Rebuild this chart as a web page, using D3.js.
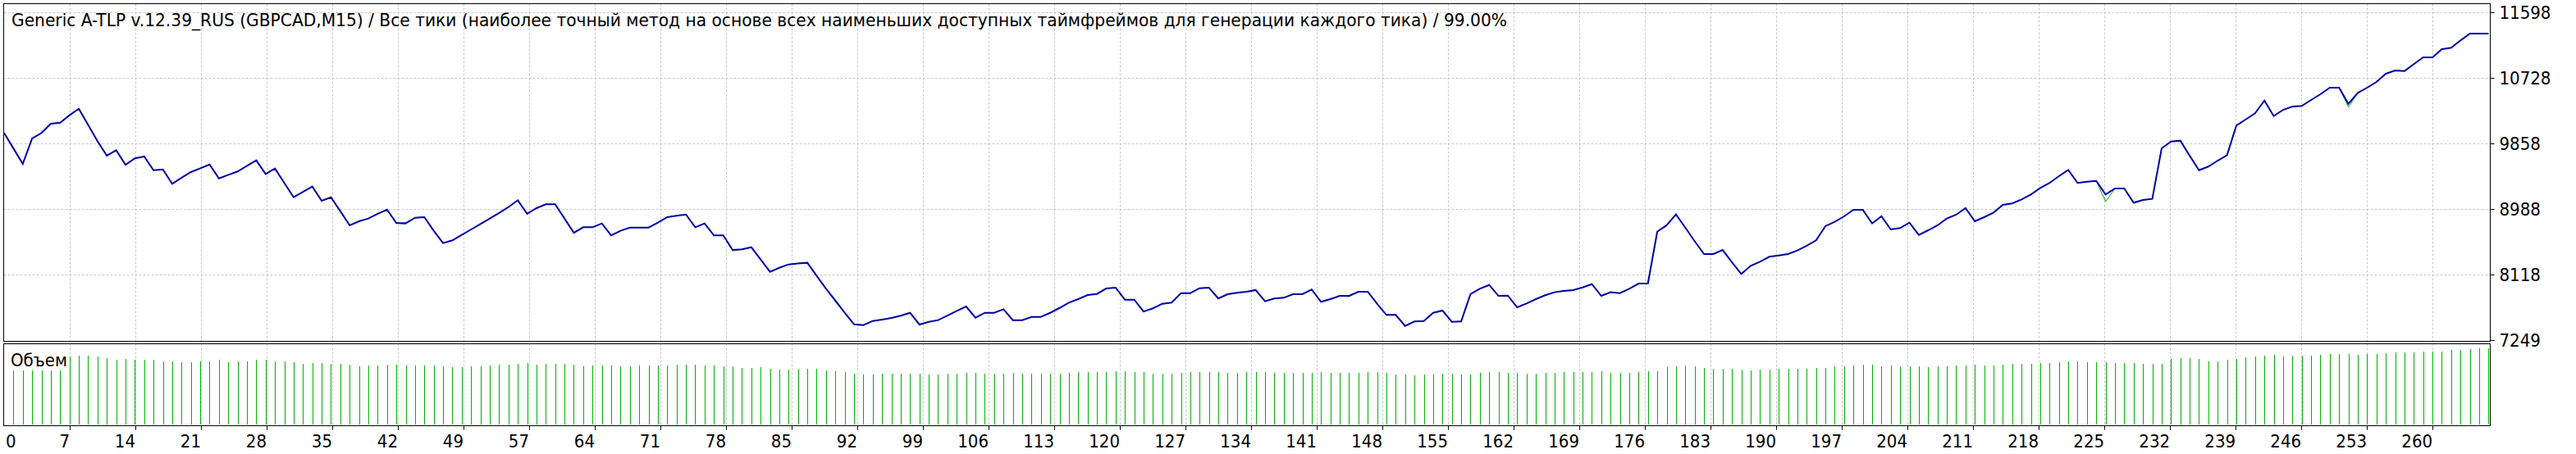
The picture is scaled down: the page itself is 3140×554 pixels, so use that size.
<!DOCTYPE html>
<html>
<head>
<meta charset="utf-8">
<script src="https://cdn.jsdelivr.net/npm/d3@7"></script>
<style>
  body { margin: 0; background: #fff; }
  svg text { font-family: "DejaVu Sans Condensed", "DejaVu Sans", sans-serif; font-size: 22px; fill: #000; }
</style>
</head>
<body>
<svg id="chart" width="3140" height="554"></svg>
<script>
const title = "Generic A-TLP v.12.39_RUS (GBPCAD,M15) / Все тики (наиболее точный метод на основе всех наименьших доступных таймфреймов для генерации каждого тика) / 99.00%";
const volumeLabel = "Объем";

// balance after each trade, trade 0 = initial deposit
const balance = [
  10000,9795,9590,9927,10000,10123,10137,10235,10322,10105,
  9891,9699,9771,9579,9663,9688,9506,9517,9326,9406,
  9481,9532,9582,9397,9445,9489,9565,9637,9456,9528,
  9337,9147,9220,9289,9101,9147,8963,8775,8829,8865,
  8927,8984,8804,8804,8876,8883,8702,8539,8576,8647,
  8720,8793,8865,8938,9017,9108,8927,9003,9054,9054,
  8865,8676,8749,8749,8800,8641,8702,8745,8745,8745,
  8810,8883,8902,8919,8749,8800,8641,8641,8448,8456,
  8484,8321,8158,8212,8256,8270,8278,8104,7934,7777,
  7614,7462,7451,7506,7524,7546,7575,7614,7459,7495,
  7517,7578,7640,7698,7549,7614,7614,7662,7517,7517,
  7560,7560,7614,7679,7749,7796,7850,7864,7937,7948,
  7788,7788,7631,7674,7734,7749,7875,7875,7941,7948,
  7804,7861,7880,7894,7916,7767,7804,7814,7861,7861,
  7923,7760,7796,7839,7839,7894,7894,7734,7586,7586,
  7440,7499,7506,7614,7644,7495,7499,7861,7934,7984,
  7839,7843,7687,7738,7796,7847,7887,7905,7916,7951,
  7995,7839,7887,7875,7934,8002,8006,8691,8775,8919,
  8745,8565,8394,8394,8448,8285,8130,8238,8292,8358,
  8376,8394,8441,8503,8576,8764,8822,8894,8981,8981,
  8800,8894,8720,8739,8810,8647,8709,8775,8865,8916,
  9003,8829,8883,8945,9046,9065,9119,9184,9271,9337,
  9427,9510,9337,9354,9365,9184,9264,9264,9076,9111,
  9126,9796,9887,9898,9699,9506,9554,9633,9706,10098,
  10180,10261,10430,10224,10307,10351,10359,10438,10514,10601,
  10601,10387,10532,10601,10677,10786,10829,10822,10913,11003,
  11003,11112,11130,11228,11319,11319,11319
];

// trades where equity dipped below balance: [trade, equity]
const equityDips = [[36, 8950], [43, 8790], [78, 8436], [89, 7760], [98, 7450],
  [144, 7828], [199, 8975], [225, 9090], [228, 9065], [251, 10344]];

// lots of trades 1..266
const volumes = [
  0.66,0.66,0.66,0.66,0.66,0.66,0.83,0.84,0.84,0.83,
  0.81,0.79,0.80,0.79,0.79,0.79,0.77,0.77,0.76,0.76,
  0.77,0.77,0.79,0.76,0.77,0.77,0.79,0.79,0.77,0.77,
  0.76,0.74,0.75,0.75,0.74,0.74,0.73,0.71,0.72,0.72,
  0.73,0.73,0.72,0.72,0.72,0.72,0.71,0.70,0.70,0.71,
  0.71,0.72,0.73,0.73,0.74,0.75,0.73,0.74,0.74,0.74,
  0.73,0.71,0.72,0.72,0.72,0.71,0.71,0.72,0.72,0.72,
  0.72,0.73,0.73,0.73,0.72,0.72,0.71,0.71,0.69,0.69,
  0.70,0.68,0.67,0.67,0.68,0.68,0.68,0.66,0.65,0.64,
  0.62,0.61,0.61,0.62,0.62,0.62,0.62,0.62,0.61,0.61,
  0.62,0.62,0.63,0.63,0.62,0.62,0.62,0.63,0.62,0.62,
  0.62,0.62,0.62,0.63,0.64,0.64,0.64,0.64,0.65,0.65,
  0.64,0.64,0.62,0.62,0.62,0.63,0.64,0.64,0.64,0.64,
  0.63,0.63,0.64,0.64,0.64,0.63,0.63,0.63,0.63,0.63,
  0.64,0.63,0.63,0.63,0.63,0.64,0.64,0.63,0.61,0.61,
  0.60,0.61,0.61,0.62,0.62,0.61,0.61,0.63,0.64,0.64,
  0.63,0.63,0.62,0.62,0.63,0.63,0.64,0.64,0.64,0.64,
  0.65,0.63,0.63,0.63,0.64,0.65,0.65,0.70,0.71,0.72,
  0.71,0.69,0.68,0.68,0.68,0.67,0.66,0.67,0.67,0.68,
  0.68,0.68,0.68,0.69,0.69,0.71,0.71,0.72,0.73,0.73,
  0.71,0.72,0.71,0.71,0.71,0.70,0.71,0.71,0.72,0.72,
  0.73,0.72,0.72,0.73,0.74,0.74,0.74,0.75,0.75,0.76,
  0.77,0.77,0.76,0.76,0.76,0.75,0.75,0.75,0.74,0.74,
  0.74,0.80,0.81,0.81,0.80,0.77,0.77,0.79,0.80,0.82,
  0.83,0.84,0.85,0.83,0.84,0.84,0.84,0.85,0.86,0.86,
  0.86,0.85,0.86,0.86,0.87,0.88,0.88,0.88,0.89,0.89,
  0.89,0.91,0.91,0.92,0.93,0.93
];

const yTicks = [11598, 10728, 9858, 8988, 8118, 7249];
const xTickLabels = ["0","7","14","21","28","35","42","49","57","64","71","78","85","92","99",
  "106","113","120","127","134","141","148","155","162","169","176","183","190","197","204",
  "211","218","225","232","239","246","253","260"];

const svg = d3.select("#chart");
const plotLeft = 4.5, plotRight = 3035.5, plotTop = 4.5, plotBottom = 416.5;
const volTop = 419.5, volBottom = 519.5;
const gridColor = "#c8c8c8";

const x = d3.scaleLinear().domain([0, balance.length - 1]).range([5, 3033.4]);
const y = d3.scaleLinear().domain([7249, 11598]).range([415.3, 15.3]);
const yVol = d3.scaleLinear().domain([0, 1]).range([518, 418]);
const xTick = d3.scalePoint().domain(xTickLabels).range([x(0), x(260)]);

// grid
svg.append("g").selectAll("line")
    .data(yTicks.slice(0, -1))
    .enter()
    .append("line")
    .attr("x1", plotLeft).attr("x2", plotRight)
    .attr("y1", d => Math.round(y(d)) + 0.5)
    .attr("y2", d => Math.round(y(d)) + 0.5)
    .attr("stroke", gridColor)
    .attr("stroke-dasharray", "3,2");

svg.append("g").selectAll("line")
    .data(xTickLabels.slice(1))
    .enter()
    .append("line")
    .attr("x1", d => Math.round(xTick(d)) + 0.5)
    .attr("x2", d => Math.round(xTick(d)) + 0.5)
    .attr("y1", plotTop).attr("y2", volBottom)
    .attr("stroke", gridColor)
    .attr("stroke-dasharray", "3,2");

// volume bars
svg.append("g").selectAll("line")
    .data(volumes)
    .enter()
    .append("line")
    .attr("x1", (d, i) => Math.round(x(i + 1)) + 0.5)
    .attr("x2", (d, i) => Math.round(x(i + 1)) + 0.5)
    .attr("y1", yVol(0))
    .attr("y2", d => yVol(d))
    .attr("stroke", "#00b000")
    .attr("stroke-width", 1);

// equity under balance
const dips = new Map(equityDips);
const equity = balance.map((v, i) => dips.has(i) ? dips.get(i) : v);
const line = d3.line().x((d, i) => x(i)).y(d => y(d));

svg.append("path")
    .attr("d", line(equity))
    .attr("fill", "none")
    .attr("stroke", "#00b000")
    .attr("stroke-width", 1);

svg.append("path")
    .attr("d", line(balance))
    .attr("fill", "none")
    .attr("stroke", "#0000a8")
    .attr("stroke-width", 2);

// frames
svg.append("rect")
    .attr("x", plotLeft).attr("y", plotTop)
    .attr("width", plotRight - plotLeft).attr("height", plotBottom - plotTop)
    .attr("fill", "none").attr("stroke", "#000");
svg.append("rect")
    .attr("x", plotLeft).attr("y", volTop)
    .attr("width", plotRight - plotLeft).attr("height", volBottom - volTop)
    .attr("fill", "none").attr("stroke", "#000");

// y axis
svg.append("g").selectAll("line")
    .data(yTicks)
    .enter()
    .append("line")
    .attr("x1", plotRight).attr("x2", plotRight + 5)
    .attr("y1", d => Math.round(y(d)) + 0.5)
    .attr("y2", d => Math.round(y(d)) + 0.5)
    .attr("stroke", "#000");
svg.append("g").selectAll("text")
    .data(yTicks)
    .enter()
    .append("text")
    .attr("x", plotRight + 11)
    .attr("y", d => y(d) + 8)
    .text(d => d);

// x axis
svg.append("g").selectAll("line")
    .data(xTickLabels.slice(1))
    .enter()
    .append("line")
    .attr("x1", d => Math.round(xTick(d)) + 0.5)
    .attr("x2", d => Math.round(xTick(d)) + 0.5)
    .attr("y1", volBottom).attr("y2", volBottom + 5)
    .attr("stroke", "#000");
svg.append("g").selectAll("text")
    .data(xTickLabels)
    .enter()
    .append("text")
    .attr("x", (d, i) => i === 0 ? xTick(d) + 2 : xTick(d))
    .attr("y", 546)
    .attr("text-anchor", (d, i) => i === 0 ? "start" : "end")
    .text(d => d);

svg.append("text")
    .attr("x", 14)
    .attr("y", 32)
    .attr("textLength", 1823)
    .attr("lengthAdjust", "spacingAndGlyphs")
    .text(title);

svg.append("text")
    .attr("x", 13)
    .attr("y", 447)
    .text(volumeLabel);
</script>
</body>
</html>
